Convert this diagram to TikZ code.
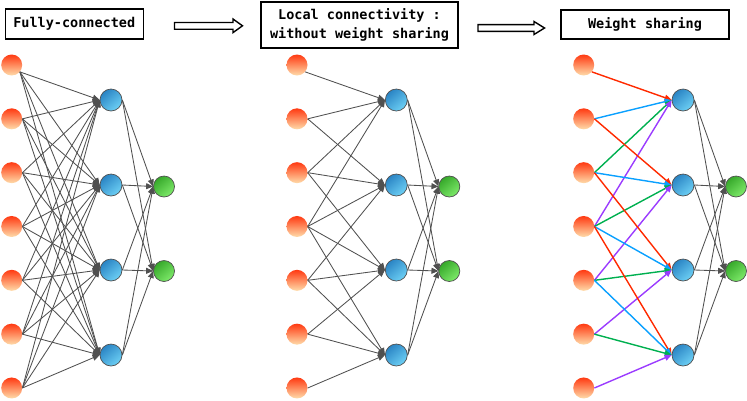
\documentclass[tikz,border=0pt]{standalone}
\usepackage{fontspec}
\newfontfamily\boxfont{DejaVu Sans Mono}
\usetikzlibrary{arrows.meta}
\definecolor{inred}{HTML}{FF3A12}
\definecolor{inpeach}{HTML}{FFDCAA}
\definecolor{hidark}{HTML}{2A84C4}
\definecolor{hilight}{HTML}{6DD0F5}
\definecolor{grdark}{HTML}{36A82A}
\definecolor{grlight}{HTML}{7EEA6A}
\definecolor{nodeborder}{HTML}{505050}
\definecolor{edgegray}{HTML}{505050}
\definecolor{wred}{HTML}{FF2A00}
\definecolor{wblue}{HTML}{0AA0FF}
\definecolor{wgreen}{HTML}{00B050}
\definecolor{wpurple}{HTML}{9B3CFF}
\begin{document}
\begin{tikzpicture}[x=1pt,y=-1pt,
  inp/.style={circle,minimum size=21pt,inner sep=0pt,top color=inred,bottom color=inpeach},
  hid/.style={circle,minimum size=22pt,inner sep=0pt,draw=nodeborder,line width=0.7pt,top color=hidark,bottom color=hilight,shading angle=40},
  outn/.style={circle,minimum size=21pt,inner sep=0pt,draw=nodeborder,line width=0.7pt,top color=grdark,bottom color=grlight,shading angle=40},
  edge/.style={draw=edgegray,line width=0.85pt,-{Triangle[length=7pt,width=6pt]}},
  cedge/.style={line width=1.4pt,-{Triangle[length=7pt,width=6pt]}},
  titlebox/.style={draw=black,line width=1.6pt,inner sep=0pt,font=\boxfont\bfseries\fontsize{13.5}{19}\selectfont,align=center},
  hollowarrow/.style={draw=black,line width=1.4pt,fill=white,line join=miter}]
\useasboundingbox (0,0) rectangle (747,400);

% title boxes
\node[titlebox,minimum width=138pt,minimum height=30pt] (t1) at (74.3,24.2) {Fully-connected};
\node[titlebox,minimum width=197pt,minimum height=46pt] (t2) at (359.5,25) {Local connectivity :\\without weight sharing};
\node[titlebox,minimum width=168pt,minimum height=29.5pt] (t3) at (645,24.5) {Weight sharing};

% hollow arrows
\draw[hollowarrow] (174.5,22.5) -- (233,22.5) -- (233,19) -- (242.5,25.8) -- (233,32.6) -- (233,29.2) -- (174.5,29.2) -- cycle;
\draw[hollowarrow] (478,24.6) -- (534,24.6) -- (534,21.5) -- (544.5,28) -- (534,34.5) -- (534,31.4) -- (478,31.4) -- cycle;

% nodes
\foreach \p/\dx in {a/0,b/285.3,c/572}{
  \foreach \i in {1,...,7} \node[inp] (\p i\i) at ({11.7+\dx},{65+53.83*(\i-1)}) {};
  \foreach \h in {1,...,4} \node[hid] (\p h\h) at ({111+\dx},{100+85*(\h-1)}) {};
  \foreach \o in {1,2} \node[outn] (\p o\o) at ({164+\dx},{186.5+84.5*(\o-1)}) {};
  % connection points of the inputs
  \coordinate (\p s1) at (\p i1.-40);
  \foreach \i in {2,...,7} \coordinate (\p s\i) at (\p i\i.east);
}

% fully connected
\foreach \i in {1,...,7}
  \foreach \h in {1,...,4}
    \draw[edge] (as\i) -- (ah\h.west);

% hidden to output
\foreach \p in {a,b,c}
  \foreach \h in {1,...,4}
    \foreach \o in {1,2}
      \draw[edge] (\p h\h.east) -- (\p o\o.west);

% local connectivity
\foreach \h in {1,...,4}
  \foreach \k in {0,...,3}{
    \pgfmathtruncatemacro\ii{\h+\k}
    \draw[edge] (bs\ii) -- (bh\h.west);
  }

% weight sharing
\foreach \h in {1,...,4}
  \foreach \k/\c in {0/wred,1/wblue,2/wgreen,3/wpurple}{
    \pgfmathtruncatemacro\ii{\h+\k}
    \draw[cedge,draw=\c,fill=\c] (cs\ii) -- (ch\h.west);
  }
\end{tikzpicture}
\end{document}
